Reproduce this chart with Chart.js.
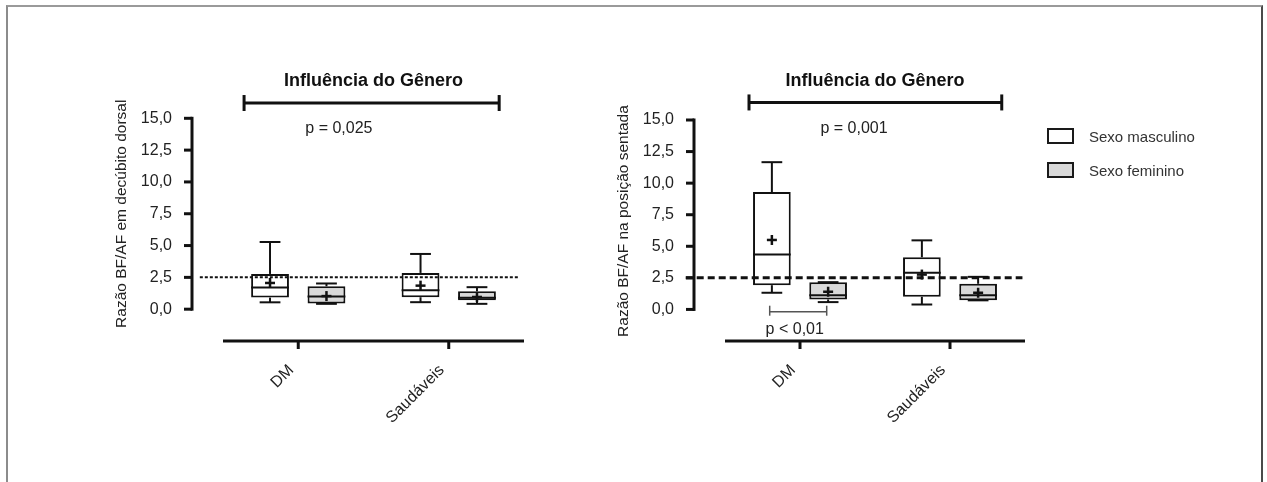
<!DOCTYPE html>
<html>
<head>
<meta charset="utf-8">
<script src="https://cdn.jsdelivr.net/npm/chart.js@4.4.0/dist/chart.umd.min.js"></script>
<style>
    body { margin: 0; background: #fff; width: 1267px; height: 482px; overflow: hidden; position: relative;
           font-family: 'Liberation Sans Narrow', 'Arial Narrow', 'Liberation Sans', sans-serif; }
    .frame { position: absolute; left: 6px; top: 5px; width: 1257px; height: 500px; box-sizing: border-box;
             border-left: 2px solid #8c8c8c; border-top: 2px solid #9a9a9a; border-right: 2px solid #4a4a4a; }
    canvas { position: absolute; top: 0; }
    #chartLeft { left: 0; }
    #chartRight { left: 600px; }
    .legend-item { position: absolute; left: 1047px; height: 20px; display: flex; align-items: center;
                   font-size: 15px; color: #333; }
    .legend-box { width: 27px; height: 16px; box-sizing: border-box; border: 2px solid #1a1a1a; margin-right: 15px; }
</style>
</head>
<body>
<div class="frame"></div>
<canvas id="chartLeft" width="600" height="482"></canvas>
<canvas id="chartRight" width="667" height="482"></canvas>
<div class="legend-item" style="top:126px"><span class="legend-box" style="background:#fff"></span>Sexo masculino</div>
<div class="legend-item" style="top:160px"><span class="legend-box" style="background:#d9d9d9"></span>Sexo feminino</div>
<script>
// Categories and axis
const categories = ['DM', 'Saudáveis'];
const yTicks = [0, 2.5, 5, 7.5, 10, 12.5, 15];

// Razão BF/AF em decúbito dorsal
const dorsalMaleMin = [0.54, 0.55];
const dorsalMaleQ1 = [0.91, 0.94];
const dorsalMaleMedian = [1.70, 1.49];
const dorsalMaleQ3 = [2.77, 2.85];
const dorsalMaleMax = [5.28, 4.34];
const dorsalMaleMean = [2.06, 1.85];
const dorsalFemaleMin = [0.42, 0.42];
const dorsalFemaleQ1 = [0.44, 0.71];
const dorsalFemaleMedian = [1.00, 0.90];
const dorsalFemaleQ3 = [1.80, 1.40];
const dorsalFemaleMax = [2.02, 1.73];
const dorsalFemaleMean = [1.03, 0.96];

// Razão BF/AF na posição sentada
const sentadaMaleMin = [1.32, 0.39];
const sentadaMaleQ1 = [1.92, 1.00];
const sentadaMaleMedian = [4.34, 2.90];
const sentadaMaleQ3 = [9.29, 4.13];
const sentadaMaleMax = [11.66, 5.47];
const sentadaMaleMean = [5.50, 2.76];
const sentadaFemaleMin = [0.58, 0.72];
const sentadaFemaleQ1 = [0.79, 0.73];
const sentadaFemaleMedian = [1.13, 1.13];
const sentadaFemaleQ3 = [2.16, 2.03];
const sentadaFemaleMax = [2.16, 2.58];
const sentadaFemaleMean = [1.40, 1.32];

const FONT = "'Liberation Sans Narrow', 'Arial Narrow', 'Liberation Sans', sans-serif";
Chart.defaults.font.family = FONT;
Chart.defaults.color = '#222';

function fmt(v) {
    return v.toFixed(1).replace('.', ',');
}

function boxDataset(label, fill, min, q1, median, q3, max, mean) {
    return {
        label,
        data: q1.map((v, i) => [v, q3[i]]),
        backgroundColor: fill,
        borderColor: '#111',
        borderWidth: 2,
        borderSkipped: false,
        categoryPercentage: 0.75,
        barPercentage: 0.67,
        stats: { min, median, max, mean },
    };
}

function strokeLine(ctx, x1, y1, x2, y2) {
    ctx.beginPath();
    ctx.moveTo(x1, y1);
    ctx.lineTo(x2, y2);
    ctx.stroke();
}

// whiskers, median and mean on top of the floating bars
const boxExtras = {
    id: 'boxExtras',
    afterDatasetsDraw(chart) {
        const ctx = chart.ctx;
        const y = chart.scales.y;
        ctx.save();
        ctx.strokeStyle = '#111';
        ctx.lineWidth = 2;
        chart.data.datasets.forEach((ds, i) => {
            const s = ds.stats;
            chart.getDatasetMeta(i).data.forEach((bar, j) => {
                const half = bar.width / 2;
                const cap = half * 0.55;
                const yLow = y.getPixelForValue(ds.data[j][0]);
                const yHigh = y.getPixelForValue(ds.data[j][1]);
                const yMin = y.getPixelForValue(s.min[j]);
                const yMax = y.getPixelForValue(s.max[j]);
                strokeLine(ctx, bar.x, yHigh, bar.x, yMax);
                strokeLine(ctx, bar.x - cap, yMax, bar.x + cap, yMax);
                strokeLine(ctx, bar.x, yLow, bar.x, yMin);
                strokeLine(ctx, bar.x - cap, yMin, bar.x + cap, yMin);
                const yMed = y.getPixelForValue(s.median[j]);
                strokeLine(ctx, bar.x - half, yMed, bar.x + half, yMed);
                const yMean = y.getPixelForValue(s.mean[j]);
                ctx.lineWidth = 2.5;
                strokeLine(ctx, bar.x - 5, yMean, bar.x + 5, yMean);
                strokeLine(ctx, bar.x, yMean - 5, bar.x, yMean + 5);
                ctx.lineWidth = 2;
            });
        });
        ctx.restore();
    }
};

// GraphPad style detached axes plus the notes around each panel
const panelNotes = {
    id: 'panelNotes',
    afterDraw(chart, args, opts) {
        const ctx = chart.ctx;
        const x = chart.scales.x;
        const y = chart.scales.y;
        const area = chart.chartArea;
        ctx.save();
        ctx.strokeStyle = '#111';
        ctx.lineWidth = 3;

        // y axis
        const ax = area.left - 31;
        strokeLine(ctx, ax, y.getPixelForValue(0) + 1.5, ax, y.getPixelForValue(15) - 1.5);
        yTicks.forEach(v => strokeLine(ctx, ax - 8, y.getPixelForValue(v), ax, y.getPixelForValue(v)));

        // x axis
        strokeLine(ctx, area.left, area.bottom, area.right, area.bottom);
        categories.forEach((c, i) => strokeLine(ctx, x.getPixelForValue(i), area.bottom, x.getPixelForValue(i), area.bottom + 8));

        // bracket under the title
        const b = opts.bracket;
        const by = y.getPixelForValue(b.value);
        const bx1 = x.getPixelForValue(b.from);
        const bx2 = x.getPixelForValue(b.to);
        strokeLine(ctx, bx1, by, bx2, by);
        strokeLine(ctx, bx1, by - 8, bx1, by + 8);
        strokeLine(ctx, bx2, by - 8, bx2, by + 8);

        // reference line
        const r = opts.refLine;
        ctx.lineWidth = r.width;
        ctx.setLineDash(r.dash);
        const ry = y.getPixelForValue(r.value);
        strokeLine(ctx, x.getPixelForValue(r.from), ry, x.getPixelForValue(r.to), ry);
        ctx.setLineDash([]);

        ctx.fillStyle = '#222';
        ctx.font = '16px ' + FONT;
        ctx.textAlign = 'center';
        ctx.textBaseline = 'middle';
        ctx.fillText(opts.pText.text, x.getPixelForValue(opts.pText.index), y.getPixelForValue(opts.pText.value));

        if (opts.pair) {
            const p = opts.pair;
            ctx.strokeStyle = '#555';
            ctx.lineWidth = 1.5;
            const py = y.getPixelForValue(p.value);
            const px1 = x.getPixelForValue(p.from);
            const px2 = x.getPixelForValue(p.to);
            strokeLine(ctx, px1, py, px2, py);
            strokeLine(ctx, px1, py - 6, px1, py + 4);
            strokeLine(ctx, px2, py - 6, px2, py + 4);
            ctx.fillText(p.text, x.getPixelForValue(p.textIndex), y.getPixelForValue(p.textValue));
        }

        // y axis title
        ctx.font = '15.5px ' + FONT;
        ctx.translate(area.left - 101, y.getPixelForValue(opts.yTitleValue));
        ctx.rotate(-Math.PI / 2);
        ctx.fillText(opts.yTitle, 0, 0);
        ctx.restore();
    }
};

function makePanel(canvasId, datasets, padding, titlePadBottom, notes) {
    return new Chart(document.getElementById(canvasId), {
        type: 'bar',
        data: { labels: categories, datasets },
        options: {
            responsive: false,
            animation: false,
            layout: { padding },
            scales: {
                x: {
                    grid: { display: false, drawTicks: false },
                    border: { display: false },
                    ticks: { color: '#222', font: { size: 16 }, minRotation: 45, maxRotation: 45, padding: 20, labelOffset: -7 },
                    afterFit: s => { s.height = 100; }
                },
                y: {
                    min: -2.5,
                    max: 15,
                    grid: { display: false, drawTicks: false },
                    border: { display: false },
                    ticks: { color: '#222', font: { size: 16 }, padding: 51, callback: v => fmt(v) },
                    afterBuildTicks: s => { s.ticks = yTicks.map(v => ({ value: v })); },
                    afterFit: s => { s.width = 123; }
                }
            },
            plugins: {
                legend: { display: false },
                tooltip: { enabled: false },
                title: {
                    display: true,
                    text: 'Influência do Gênero',
                    fullSize: false,
                    color: '#111',
                    font: { size: 18, weight: 'bold' },
                    padding: { top: 10, bottom: titlePadBottom }
                },
                panelNotes: notes
            }
        },
        plugins: [boxExtras, panelNotes]
    });
}

makePanel('chartLeft', [
    boxDataset('Sexo masculino', '#ffffff', dorsalMaleMin, dorsalMaleQ1, dorsalMaleMedian, dorsalMaleQ3, dorsalMaleMax, dorsalMaleMean),
    boxDataset('Sexo feminino', '#d9d9d9', dorsalFemaleMin, dorsalFemaleQ1, dorsalFemaleMedian, dorsalFemaleQ3, dorsalFemaleMax, dorsalFemaleMean),
], { left: 100, right: 76, top: 60, bottom: 41 }, 26.7, {
    yTitle: 'Razão BF/AF em decúbito dorsal',
    yTitleValue: 7.5,
    bracket: { from: -0.36, to: 1.335, value: 16.2 },
    pText: { text: 'p = 0,025', index: 0.27, value: 14.16 },
    refLine: { value: 2.5, from: -0.654, to: 1.459, width: 2, dash: [3, 2] },
    pair: null
});

makePanel('chartRight', [
    boxDataset('Sexo masculino', '#ffffff', sentadaMaleMin, sentadaMaleQ1, sentadaMaleMedian, sentadaMaleQ3, sentadaMaleMax, sentadaMaleMean),
    boxDataset('Sexo feminino', '#d9d9d9', sentadaFemaleMin, sentadaFemaleQ1, sentadaFemaleMedian, sentadaFemaleQ3, sentadaFemaleMax, sentadaFemaleMean),
], { left: 2, right: 242, top: 60, bottom: 41 }, 28.4, {
    yTitle: 'Razão BF/AF na posição sentada',
    yTitleValue: 7.0,
    bracket: { from: -0.34, to: 1.345, value: 16.39 },
    pText: { text: 'p = 0,001', index: 0.36, value: 14.3 },
    refLine: { value: 2.5, from: -0.762, to: 1.483, width: 3, dash: [7, 4] },
    pair: { from: -0.202, to: 0.178, value: -0.18, text: 'p < 0,01', textIndex: -0.035, textValue: -1.58 }
});
</script>
</body>
</html>
